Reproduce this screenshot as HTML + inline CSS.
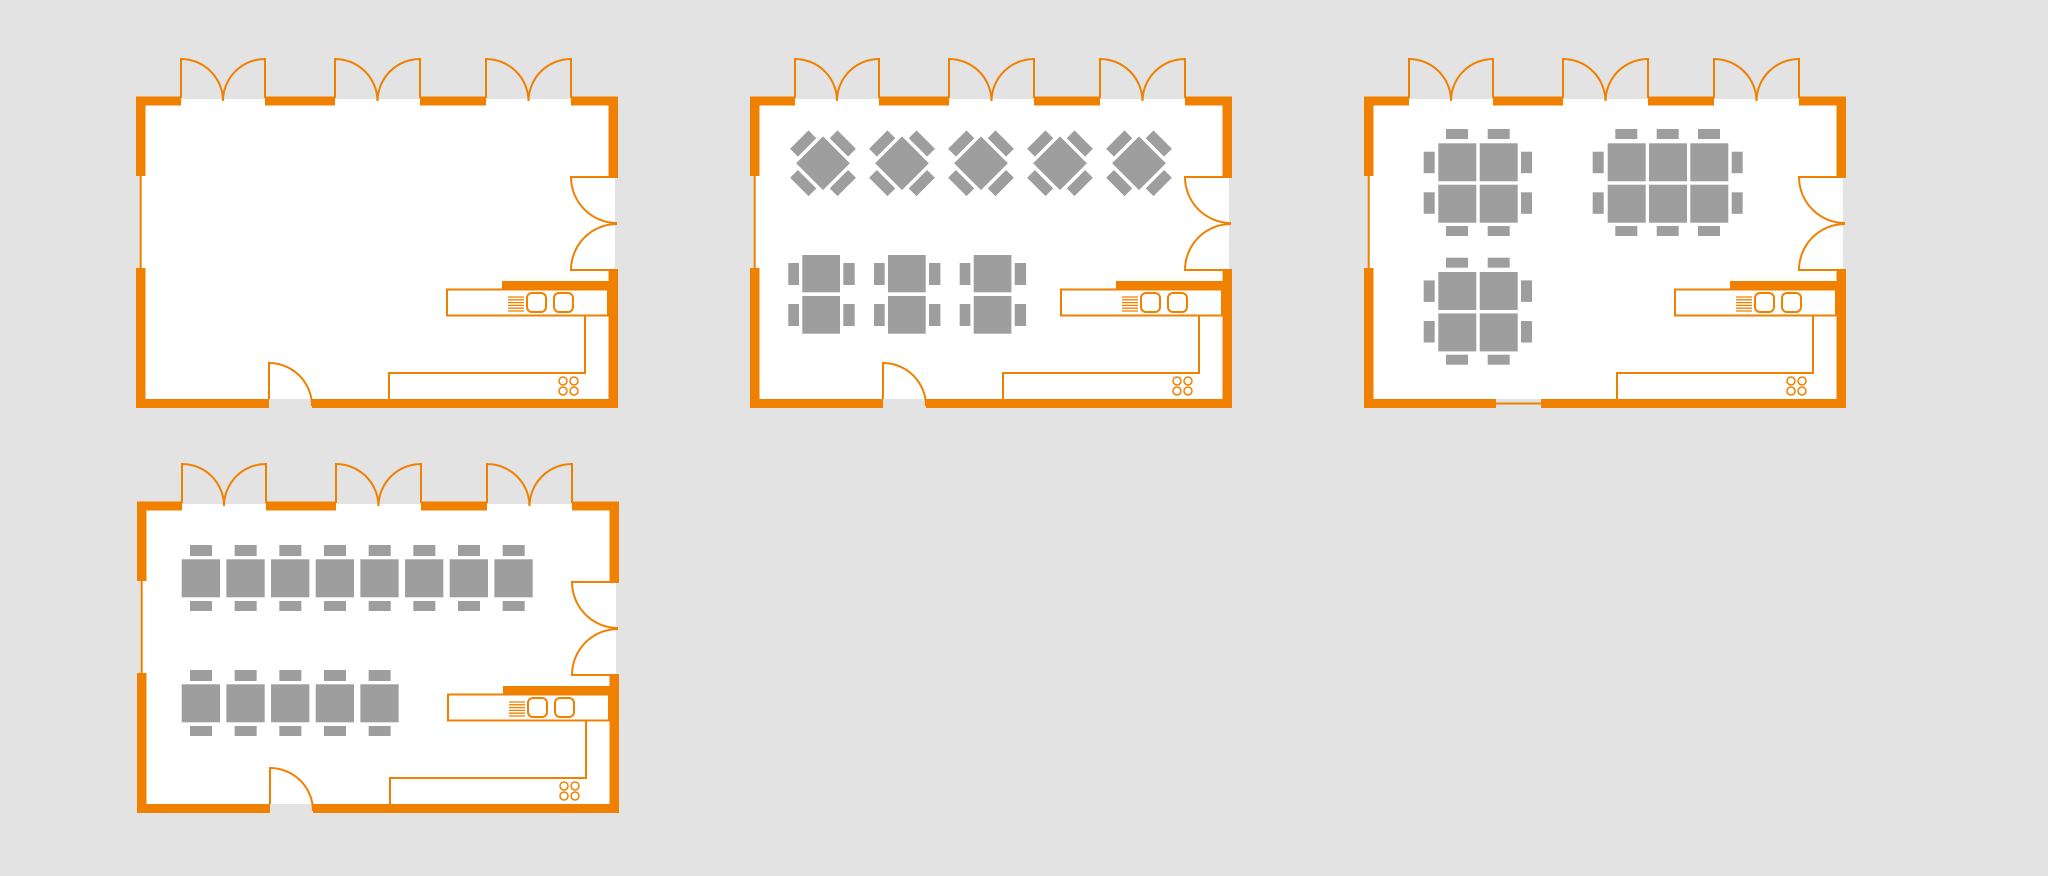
<!DOCTYPE html>
<html><head><meta charset="utf-8"><style>html,body{margin:0;padding:0;background:#e3e3e3}svg{display:block}</style></head>
<body>
<svg width="2048" height="876" viewBox="0 0 2048 876" xmlns="http://www.w3.org/2000/svg">
<defs>
<g id="base">
  <rect x="141" y="99" width="474" height="300" fill="#fff"/>
  <g fill="#f08000">
    <rect x="136" y="96.5" width="45" height="9"/>
    <rect x="265" y="96.5" width="70" height="9"/>
    <rect x="420" y="96.5" width="66" height="9"/>
    <rect x="571" y="96.5" width="47" height="9"/>
    <rect x="136" y="96.5" width="9.5" height="79.5"/>
    <rect x="136" y="268" width="9.5" height="140"/>
    <rect x="608.5" y="96.5" width="9.5" height="80.5"/>
    <rect x="608.5" y="270" width="9.5" height="138"/>
    <rect x="502" y="281" width="106.5" height="8.5"/>
  </g>
  <g fill="none" stroke="#f08000" stroke-width="2">
    <line x1="140.7" y1="176" x2="140.7" y2="268"/>
    <path d="M181 98V59A42 42 0 0 1 223 101M265 98V59A42 42 0 0 0 223 101"/>
    <path d="M335 98V59A42.5 42.5 0 0 1 377.5 101M420 98V59A42.5 42.5 0 0 0 377.5 101"/>
    <path d="M486 98V59A42.5 42.5 0 0 1 528.5 101M571 98V59A42.5 42.5 0 0 0 528.5 101"/>
    <path d="M618 177H571A46 46 0 0 0 617 223M618 270H571A46 46 0 0 1 617 224"/>
    <rect x="447" y="289.5" width="161" height="26"/>
    <path d="M585 316V373H389V399"/>
    <rect x="527" y="293" width="19" height="19" rx="5"/>
    <rect x="554" y="293" width="19" height="19" rx="5"/>
    <g stroke-width="1.5">
      <circle cx="563" cy="381" r="4"/><circle cx="574" cy="381" r="4"/>
      <circle cx="563" cy="391" r="4"/><circle cx="574" cy="391" r="4"/>
    </g>
    <path stroke-width="1.3" d="M508 297H524M508 299.8H524M508 302.6H524M508 305.4H524M508 308.2H524M508 311H524"/>
  </g>
</g>
<g id="doorbottom">
  <rect x="136" y="399" width="133" height="9" fill="#f08000"/>
  <rect x="312" y="399" width="306" height="9" fill="#f08000"/>
  <path d="M269 399V363A43 43 0 0 1 312 406" fill="none" stroke="#f08000" stroke-width="2"/>
</g>
<g id="dia">
  <g transform="rotate(45)">
    <rect x="-19" y="-19" width="38" height="38"/>
    <rect x="-13" y="-33.5" width="26" height="11"/>
    <rect x="-13" y="22.5" width="26" height="11"/>
    <rect x="-33.5" y="-13" width="11" height="26"/>
    <rect x="22.5" y="-13" width="11" height="26"/>
  </g>
</g>
<g id="pair">
  <rect x="188.3" y="255" width="37.7" height="37.3"/>
  <rect x="188.3" y="296" width="37.7" height="37.7"/>
  <rect x="174.3" y="263" width="10.7" height="22"/>
  <rect x="174.3" y="304" width="10.7" height="22"/>
  <rect x="229.3" y="263" width="11.4" height="22"/>
  <rect x="229.3" y="304" width="11.4" height="22"/>
</g>
<g id="quad">
  <rect x="210.3" y="143.3" width="38" height="38"/>
  <rect x="251.7" y="143.3" width="38" height="38"/>
  <rect x="210.3" y="184.7" width="38" height="38"/>
  <rect x="251.7" y="184.7" width="38" height="38"/>
  <rect x="218" y="129" width="22" height="10"/>
  <rect x="259.7" y="129" width="22" height="10"/>
  <rect x="218" y="226" width="22" height="10"/>
  <rect x="259.7" y="226" width="22" height="10"/>
  <rect x="195.7" y="151.7" width="11" height="21.5"/>
  <rect x="195.7" y="192.3" width="11" height="21.5"/>
  <rect x="293" y="151.7" width="11" height="21.5"/>
  <rect x="293" y="192.3" width="11" height="21.5"/>
</g>
<g id="t4">
  <rect x="180.7" y="0" width="38.3" height="38"/>
  <rect x="189" y="-14.3" width="22" height="11"/>
  <rect x="189" y="41.7" width="22" height="10"/>
</g>
</defs>

<use href="#base"/>
<use href="#doorbottom"/>

<g transform="translate(614,0)">
  <use href="#base"/>
  <use href="#doorbottom"/>
  <g fill="#9e9e9e">
    <use href="#dia" transform="translate(209,163.3)"/>
    <use href="#dia" transform="translate(288,163.3)"/>
    <use href="#dia" transform="translate(367,163.3)"/>
    <use href="#dia" transform="translate(446,163.3)"/>
    <use href="#dia" transform="translate(525,163.3)"/>
    <use href="#pair"/>
    <use href="#pair" transform="translate(85.7,0)"/>
    <use href="#pair" transform="translate(171.4,0)"/>
  </g>
</g>

<g transform="translate(1228,0)">
  <use href="#base"/>
  <rect x="136" y="399" width="132" height="9" fill="#f08000"/>
  <rect x="313" y="399" width="305" height="9" fill="#f08000"/>
  <line x1="268" y1="403.5" x2="313" y2="403.5" stroke="#f08000" stroke-width="2"/>
  <g fill="#9e9e9e">
    <use href="#quad"/>
    <use href="#quad" transform="translate(0,128.7)"/>
    <rect x="379.7" y="143.3" width="38" height="38"/>
    <rect x="421" y="143.3" width="38" height="38"/>
    <rect x="462.3" y="143.3" width="38" height="38"/>
    <rect x="379.7" y="184.7" width="38" height="38"/>
    <rect x="421" y="184.7" width="38" height="38"/>
    <rect x="462.3" y="184.7" width="38" height="38"/>
    <rect x="387.3" y="129" width="22" height="10"/>
    <rect x="428.7" y="129" width="22" height="10"/>
    <rect x="470" y="129" width="22" height="10"/>
    <rect x="387.3" y="226" width="22" height="10"/>
    <rect x="428.7" y="226" width="22" height="10"/>
    <rect x="470" y="226" width="22" height="10"/>
    <rect x="364.7" y="151.7" width="11" height="21.5"/>
    <rect x="364.7" y="192.3" width="11" height="21.5"/>
    <rect x="503.7" y="151.7" width="11" height="21.5"/>
    <rect x="503.7" y="192.3" width="11" height="21.5"/>
  </g>
</g>

<g transform="translate(1,405)">
  <use href="#base"/>
  <use href="#doorbottom"/>
  <g fill="#9e9e9e">
    <use href="#t4" transform="translate(0,154.3)"/>
    <use href="#t4" transform="translate(44.67,154.3)"/>
    <use href="#t4" transform="translate(89.33,154.3)"/>
    <use href="#t4" transform="translate(134,154.3)"/>
    <use href="#t4" transform="translate(178.67,154.3)"/>
    <use href="#t4" transform="translate(223.33,154.3)"/>
    <use href="#t4" transform="translate(268,154.3)"/>
    <use href="#t4" transform="translate(312.67,154.3)"/>
    <use href="#t4" transform="translate(0,279.3)"/>
    <use href="#t4" transform="translate(44.67,279.3)"/>
    <use href="#t4" transform="translate(89.33,279.3)"/>
    <use href="#t4" transform="translate(134,279.3)"/>
    <use href="#t4" transform="translate(178.67,279.3)"/>
  </g>
</g>
</svg>
</body></html>
